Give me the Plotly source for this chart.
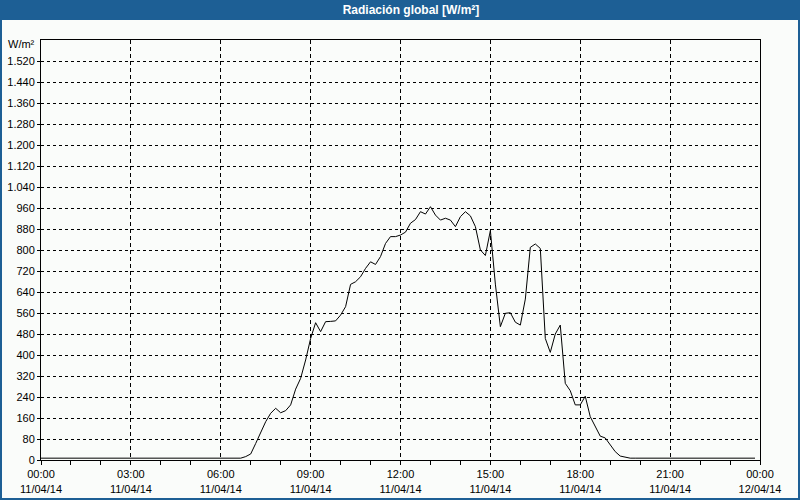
import plotly.graph_objects as go
from datetime import datetime, timedelta

# ---- data (10-minute readings, 11/04/14) ----
start = datetime(2014, 4, 11, 0, 0)
radiation = [
    7, 7, 7, 7, 7, 7, 7, 7, 7, 7, 7, 7,          # 00:00-01:50
    7, 7, 7, 7, 7, 7, 7, 7, 7, 7, 7, 7,          # 02:00-03:50
    7, 7, 7, 7, 7, 7, 7, 7, 7, 7, 7, 7,          # 04:00-05:50
    7, 7, 7, 7, 7, 13, 23, 63, 105, 146, 178, 197,   # 06:00-07:50
    180, 188, 210, 270, 311, 381, 463, 523, 489, 527, 528, 530,  # 08:00-09:50
    552, 584, 669, 679, 698, 730, 755, 745, 775, 825, 851, 851,  # 10:00-11:50
    857, 868, 902, 916, 946, 937, 965, 933, 914, 921, 914, 889,  # 12:00-13:50
    927, 946, 930, 889, 800, 779, 874, 670, 508, 559, 561, 525,  # 14:00-15:50
    514, 613, 810, 823, 806, 463, 410, 480, 514, 292, 264, 210,  # 16:00-17:50
    210, 243, 165, 125, 91, 84, 57, 32, 15, 10, 7, 7,            # 18:00-19:50
    7, 7, 7, 7, 7, 7, 7, 7, 7, 7, 7, 7,          # 20:00-21:50
    7, 7, 7, 7, 7, 7, 7, 7, 7, 7, 7, 7,          # 22:00-23:50
]
times = [start + timedelta(minutes=10 * i) for i in range(len(radiation))]

x_tick_vals = [start + timedelta(hours=h) for h in [0, 3, 6, 9, 12, 15, 18, 21, 24]]
x_tick_text = ["00:00<br>11/04/14", "03:00<br>11/04/14", "06:00<br>11/04/14",
               "09:00<br>11/04/14", "12:00<br>11/04/14", "15:00<br>11/04/14",
               "18:00<br>11/04/14", "21:00<br>11/04/14", "00:00<br>12/04/14"]
x_minor_vals = [start + timedelta(hours=h) for h in range(25)]

y_tick_vals = [0, 80, 160, 240, 320, 400, 480, 560, 640, 720, 800, 880, 960,
               1040, 1120, 1200, 1280, 1360, 1440, 1520]
y_tick_text = ["0", "80", "160", "240", "320", "400", "480", "560", "640", "720",
               "800", "880", "960", "1.040", "1.120", "1.200", "1.280", "1.360",
               "1.440", "1.520"]

title_text = "Radiación global [W/m²]"
unit_text = "W/m²"

BLUE = "#1d5f95"
BG = "#fafcfa"
FONT = "Liberation Sans"

fig = go.Figure()
fig.add_trace(go.Scatter(x=times, y=radiation, mode="lines",
                         line=dict(color="black", width=1), hoverinfo="skip",
                         showlegend=False))

# plot area: x 41..760 px, y 40..460 px
L, R, T, B = 41, 40, 40, 40
pw, ph = 800 - L - R, 500 - T - B

def px_x(p):
    return (p - L) / pw

def px_y(p):
    return (500 - B - p) / ph

fig.update_layout(
    width=800, height=500,
    margin=dict(l=L, r=R, t=T, b=B, autoexpand=False),
    paper_bgcolor=BG, plot_bgcolor=BG,
    font=dict(family=FONT, size=11, color="black"),
    title=dict(text="<b>" + title_text + "</b>", x=411 / 800, xanchor="center",
               y=1 - 10 / 500, yanchor="middle",
               font=dict(family=FONT, size=12, color="white")),
    shapes=[
        dict(type="rect", xref="paper", yref="paper", layer="below",
             x0=px_x(0), x1=px_x(800), y0=px_y(20), y1=px_y(0),
             fillcolor=BLUE, line=dict(width=0)),
        dict(type="rect", xref="paper", yref="paper", layer="below",
             x0=px_x(1), x1=px_x(799), y0=px_y(499), y1=px_y(1),
             fillcolor="rgba(0,0,0,0)", line=dict(color=BLUE, width=2)),
    ],
    annotations=[
        dict(text=unit_text, xref="paper", yref="y", x=0, y=1583,
             xanchor="right", yanchor="middle", xshift=-4, showarrow=False,
             font=dict(family=FONT, size=11, color="black")),
    ],
)

fig.update_xaxes(
    type="date", automargin=False,
    range=[start, start + timedelta(hours=24)],
    tickmode="array", tickvals=x_tick_vals, ticktext=x_tick_text,
    ticks="outside", ticklen=4, tickcolor="black",
    showgrid=True, gridcolor="black", gridwidth=1, griddash="4px,3px",
    showline=True, linecolor="black", linewidth=1, mirror=True,
    zeroline=False,
    minor=dict(tickmode="array", tickvals=x_minor_vals, ticks="outside",
               ticklen=4, tickcolor="black", showgrid=False),
    tickfont=dict(family=FONT, size=11, color="black"),
)
fig.update_yaxes(
    range=[0, 1600], automargin=False,
    tickmode="array", tickvals=y_tick_vals, ticktext=y_tick_text,
    ticks="outside", ticklen=3, tickcolor="black",
    showgrid=True, gridcolor="black", gridwidth=1, griddash="3px,3px",
    showline=True, linecolor="black", linewidth=1, mirror=True,
    zeroline=False,
    tickfont=dict(family=FONT, size=11, color="black"),
)

fig.write_html("out.html",
               config={"displayModeBar": False, "staticPlot": True},
               post_script="document.body.style.margin='0';"
                           "document.body.style.padding='0';"
                           "document.body.style.overflow='hidden';")
